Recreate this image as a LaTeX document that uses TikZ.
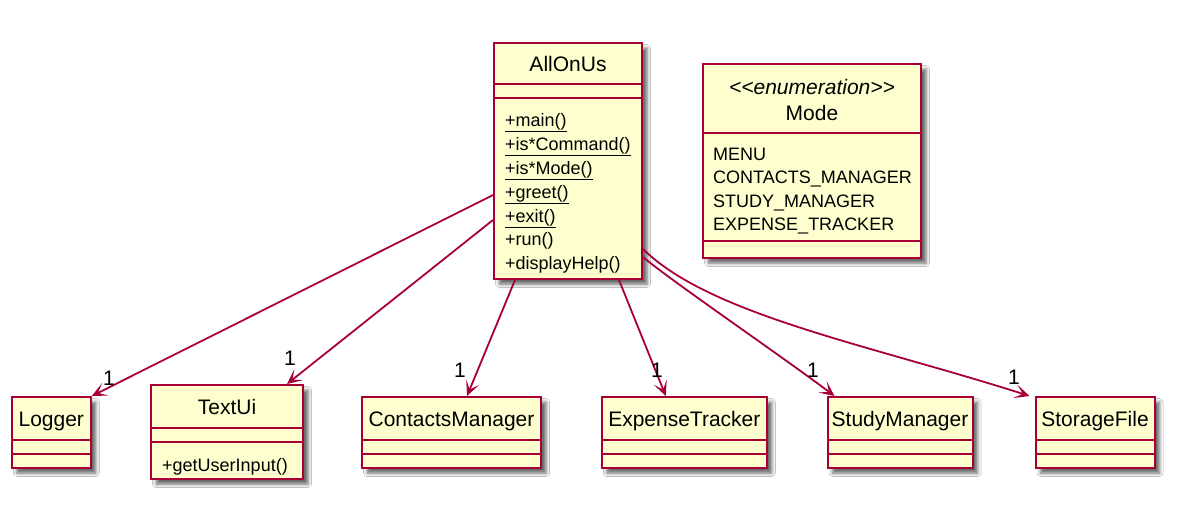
\documentclass[tikz,border=0pt]{standalone}
\usepackage{fontspec}
\setmainfont{Liberation Sans}
\usetikzlibrary{arrows.meta,calc,shadows.blur}
\definecolor{umlred}{HTML}{A80036}
\definecolor{umlfill}{HTML}{FEFECE}
\tikzset{
 cls/.style={rectangle, draw=umlred, fill=umlfill, line width=2pt, inner sep=0pt,
   blur shadow={shadow xshift=5pt, shadow yshift=-5pt, shadow blur radius=3.5pt, shadow opacity=60}},
 sepline/.style={draw=umlred, line width=1.8pt},
 hdr/.style={inner sep=0pt, font=\fontsize{21}{25}\selectfont, text height=15pt, text depth=0pt},
 mem/.style={inner sep=0pt, anchor=west, font=\fontsize{18}{22}\selectfont, text height=12.9pt, text depth=0pt},
 assoc/.style={draw=umlred, line width=1.8pt, -{Stealth[length=15pt,width=14pt,inset=8pt]}},
 mult/.style={inner sep=0pt, font=\fontsize{21}{25}\selectfont},
}
\begin{document}
\begin{tikzpicture}[x=1pt,y=-1pt]
\useasboundingbox[fill=white] (0,0) rectangle (1193,504);

% AllOnUs
\node[cls, minimum width=148pt, minimum height=236pt] (aou) at (568,161) {};
\draw[sepline] ($(aou.north west)+(0,42)$) -- ($(aou.north east)+(0,42)$);
\draw[sepline] ($(aou.north west)+(0,56)$) -- ($(aou.north east)+(0,56)$);
\node[hdr] (aouname) at (568,64) {AllOnUs};
\node[mem] (aoum1) at (505,120) {\underline{+main()}};
\node[mem] (aoum2) at (505,143.9) {\underline{+is*Command()}};
\node[mem] (aoum3) at (505,167.8) {\underline{+is*Mode()}};
\node[mem] (aoum4) at (505,191.7) {\underline{+greet()}};
\node[mem] (aoum5) at (505,215.6) {\underline{+exit()}};
\node[mem] (aoum6) at (505,239.5) {+run()};
\node[mem] (aoum7) at (505,263.4) {+displayHelp()};

% Mode
\node[cls, minimum width=218pt, minimum height=194pt] (mode) at (812,161) {};
\draw[sepline] ($(mode.north west)+(0,70)$) -- ($(mode.north east)+(0,70)$);
\draw[sepline] ($(mode.north west)+(0,178)$) -- ($(mode.north east)+(0,178)$);
\node[hdr, font=\fontsize{21}{25}\selectfont\itshape] (modest) at (812,87) {{<}{<}enumeration{>}{>}};
\node[hdr] (modename) at (812,113) {Mode};
\node[mem] (modei1) at (713,154) {MENU};
\node[mem] (modei2) at (713,177.5) {CONTACTS\_MANAGER};
\node[mem] (modei3) at (713,201) {STUDY\_MANAGER};
\node[mem] (modei4) at (713,224.5) {EXPENSE\_TRACKER};

% Logger
\node[cls, minimum width=79pt, minimum height=71pt] (logger) at (51.3,432.5) {};
\draw[sepline] ($(logger.north west)+(0,44)$) -- ($(logger.north east)+(0,44)$);
\draw[sepline] ($(logger.north west)+(0,58)$) -- ($(logger.north east)+(0,58)$);
\node[hdr] (loggername) at (51.3,419) {Logger};

% TextUi
\node[cls, minimum width=152pt, minimum height=94pt] (textui) at (227,432) {};
\draw[sepline] ($(textui.north west)+(0,44)$) -- ($(textui.north east)+(0,44)$);
\draw[sepline] ($(textui.north west)+(0,58)$) -- ($(textui.north east)+(0,58)$);
\node[hdr] (textuiname) at (227,407) {TextUi};
\node[mem] (textuim1) at (162,465) {+getUserInput()};

% ContactsManager
\node[cls, minimum width=179pt, minimum height=71pt] (contacts) at (451.5,432.5) {};
\draw[sepline] ($(contacts.north west)+(0,44)$) -- ($(contacts.north east)+(0,44)$);
\draw[sepline] ($(contacts.north west)+(0,58)$) -- ($(contacts.north east)+(0,58)$);
\node[hdr] (contactsname) at (451.5,419) {ContactsManager};

% ExpenseTracker
\node[cls, minimum width=165pt, minimum height=71pt] (expense) at (684.3,432.5) {};
\draw[sepline] ($(expense.north west)+(0,44)$) -- ($(expense.north east)+(0,44)$);
\draw[sepline] ($(expense.north west)+(0,58)$) -- ($(expense.north east)+(0,58)$);
\node[hdr] (expensename) at (684.3,419) {ExpenseTracker};

% StudyManager
\node[cls, minimum width=145pt, minimum height=71pt] (study) at (900,432.5) {};
\draw[sepline] ($(study.north west)+(0,44)$) -- ($(study.north east)+(0,44)$);
\draw[sepline] ($(study.north west)+(0,58)$) -- ($(study.north east)+(0,58)$);
\node[hdr] (studyname) at (900,419) {StudyManager};

% StorageFile
\node[cls, minimum width=119pt, minimum height=71pt] (storage) at (1095,432.5) {};
\draw[sepline] ($(storage.north west)+(0,44)$) -- ($(storage.north east)+(0,44)$);
\draw[sepline] ($(storage.north west)+(0,58)$) -- ($(storage.north east)+(0,58)$);
\node[hdr] (storagename) at (1095,419) {StorageFile};

% associations
\draw[assoc] ($(aou.north west)+(0,153)$) -- (logger.north east);
\draw[assoc] ($(aou.north west)+(0,178)$) -- ($(textui.north west)+(137,0)$);
\draw[assoc] ($(aou.south west)+(22,0)$) -- ($(contacts.north west)+(106,0)$);
\draw[assoc] ($(aou.south west)+(126,0)$) -- ($(expense.north west)+(65,0)$);
\draw[assoc] ($(aou.north east)+(0,215)$) .. controls (670,280) and (780,355) .. ($(study.north west)+(8,0)$);
\draw[assoc] ($(aou.north east)+(0,207)$) .. controls (710,315) and (870,345) .. ($(storage.north west)+(-5,0)$);

% multiplicities
\node[mult] (m1) at (109,378) {1};
\node[mult] (m2) at (290,358) {1};
\node[mult] (m3) at (460,370) {1};
\node[mult] (m4) at (657,370) {1};
\node[mult] (m5) at (813,370) {1};
\node[mult] (m6) at (1014,377) {1};
\end{tikzpicture}
\end{document}
